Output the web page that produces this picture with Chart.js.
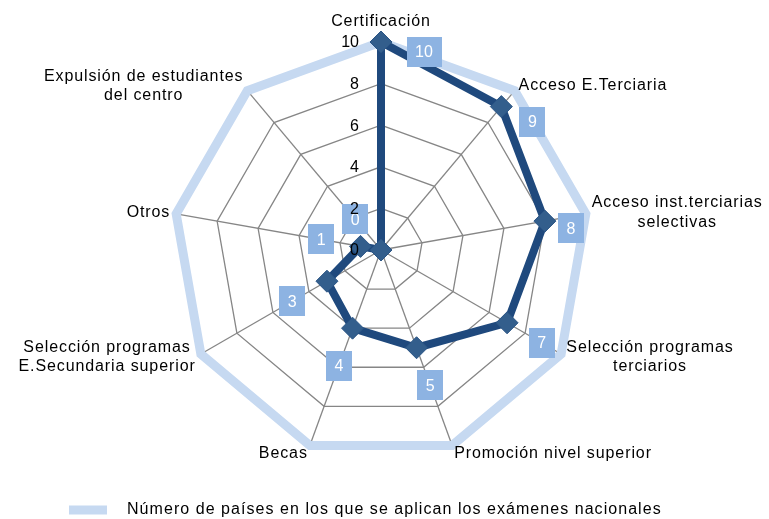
<!DOCTYPE html>
<html>
<head>
<meta charset="utf-8">
<title>Exámenes nacionales</title>
<script src="https://cdn.jsdelivr.net/npm/chart.js@4"></script>
<style>
  html, body { margin: 0; padding: 0; background: #fff; }
</style>
</head>
<body>
<canvas id="radar" width="769" height="519"></canvas>
<script>
// categorías (ejes del radar)
const categories = [
  'Certificación',
  'Acceso E.Terciaria',
  ['Acceso inst.terciarias', 'selectivas'],
  ['Selección programas', 'terciarios'],
  'Promoción nivel superior',
  'Becas',
  ['Selección programas', 'E.Secundaria superior'],
  'Otros',
  ['Expulsión de estudiantes', 'del centro'],
];
const countryValues = [10, 9, 8, 7, 5, 4, 3, 1, 0];
const outerValues = [10, 10, 10, 10, 10, 10, 10, 10, 10];
const tickValues = [0, 2, 4, 6, 8, 10];
const legendLabel = 'Número de países en los que se aplican los exámenes nacionales';

const FONT = '16px "Liberation Sans", Arial, sans-serif';
const LIGHT = '#c6d9f1';
const DARK = '#1f497d';
const BOX = '#8db3e2';

// desplazamiento de las etiquetas de valor que no van hacia fuera
const labelNudge = { 0: [43, 10], 1: [31, 15], 2: [26, 7] };

const extras = {
  id: 'extras',
  afterDatasetsDraw(chart) {
    const ctx = chart.ctx;
    const scale = chart.scales.r;
    const meta = chart.getDatasetMeta(0);
    ctx.save();
    ctx.font = FONT;
    ctx.textBaseline = 'middle';
    ctx.textAlign = 'center';

    // -- etiquetas de valor
    meta.data.forEach((pt, i) => {
      const text = String(countryValues[i]);
      let dx, dy;
      if (labelNudge[i]) {
        [dx, dy] = labelNudge[i];
      } else {
        const a = scale.getIndexAngle(i) - Math.PI / 2;
        dx = Math.cos(a) * 40;
        dy = Math.sin(a) * 40;
      }
      const x = pt.x + dx, y = pt.y + dy;
      const w = ctx.measureText(text).width + 17;
      ctx.fillStyle = BOX;
      ctx.fillRect(Math.round(x - w / 2), Math.round(y - 15), Math.round(w), 30);
      ctx.fillStyle = '#fff';
      ctx.fillText(text, x, y + 1);
    });

    // -- marcas del eje
    ctx.fillStyle = '#000';
    ctx.textAlign = 'right';
    tickValues.forEach((v) => {
      const y = scale.yCenter - scale.getDistanceFromCenterForValue(v);
      ctx.fillText(String(v), scale.xCenter - 22, y + 1);
    });

    // -- nombres de las categorías
    ctx.letterSpacing = '0.9px';
    ctx.textAlign = 'center';
    categories.forEach((cat, i) => {
      const lines = Array.isArray(cat) ? cat : [cat];
      const p = scale.getPointPosition(i, scale.drawingArea + 6);
      const maxW = Math.max(...lines.map((l) => ctx.measureText(l).width));
      let cx = p.x;
      let cy = p.y;
      if (p.x > scale.xCenter + 2) cx = p.x + maxW / 2;
      else if (p.x < scale.xCenter - 2) cx = p.x - maxW / 2;
      else cy = p.y - 14;
      if (p.y > scale.yCenter + scale.drawingArea * 0.9) cy += 2;
      const lh = 19.5;
      const top = cy - (lines.length - 1) * lh / 2;
      lines.forEach((l, k) => ctx.fillText(l, cx, top + k * lh));
    });

    // -- leyenda
    ctx.strokeStyle = LIGHT;
    ctx.lineWidth = 9;
    ctx.beginPath();
    ctx.moveTo(69, 510);
    ctx.lineTo(107, 510);
    ctx.stroke();
    ctx.letterSpacing = '1.05px';
    ctx.textAlign = 'left';
    ctx.fillText(legendLabel, 127, 510);
    ctx.restore();
  },
};

new Chart(document.getElementById('radar'), {
  type: 'radar',
  data: {
    labels: categories,
    datasets: [
      {
        label: 'Países',
        data: countryValues,
        borderColor: DARK,
        borderWidth: 8,
        pointStyle: 'rectRot',
        pointRadius: 11,
        pointHoverRadius: 11,
        pointBackgroundColor: '#335e8c',
        pointBorderColor: '#2b5585',
        pointBorderWidth: 1,
        fill: false,
        clip: false,
      },
      {
        label: legendLabel,
        data: outerValues,
        borderColor: LIGHT,
        borderWidth: 9,
        pointRadius: 0,
        fill: false,
        clip: false,
      },
    ],
  },
  options: {
    responsive: false,
    animation: false,
    layout: { padding: { top: 42, left: 0, right: 7, bottom: 61 } },
    plugins: {
      legend: { display: false },
      tooltip: { enabled: false },
    },
    scales: {
      r: {
        min: 0,
        max: 10,
        ticks: { display: false, stepSize: 2 },
        grid: { color: '#868686', lineWidth: 1.3 },
        angleLines: { color: '#868686', lineWidth: 1.3 },
        pointLabels: { display: false },
      },
    },
  },
  plugins: [extras],
});
</script>
</body>
</html>
